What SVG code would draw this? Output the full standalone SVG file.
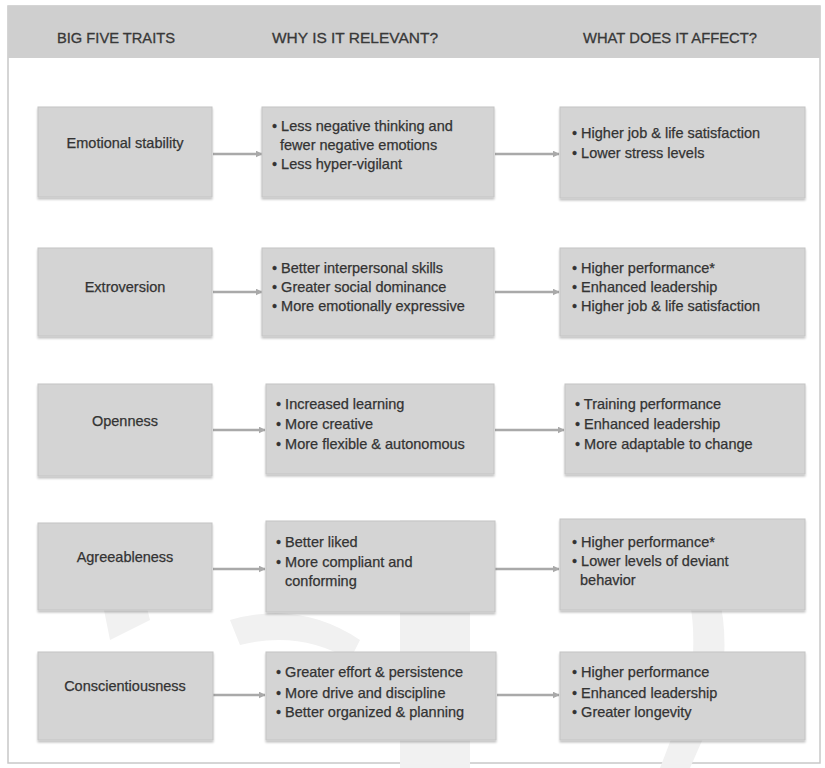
<svg xmlns="http://www.w3.org/2000/svg" width="825" height="768" viewBox="0 0 825 768">
  <defs>
    <marker id="arrowHead" viewBox="0 0 10 10" refX="9" refY="5" markerWidth="7" markerHeight="7" orient="auto" markerUnits="userSpaceOnUse">
      <path d="M0,0 L10,5 L0,10 z" fill="#a9a9a9"/>
    </marker>
    <filter id="soft" x="-5%" y="-5%" width="110%" height="115%">
      <feGaussianBlur in="SourceAlpha" stdDeviation="1.2"/>
      <feOffset dx="0" dy="1.5"/>
      <feComponentTransfer><feFuncA type="linear" slope="0.25"/></feComponentTransfer>
      <feMerge><feMergeNode/><feMergeNode in="SourceGraphic"/></feMerge>
    </filter>
  </defs>
  <style>
    .frame { fill: #ffffff; stroke: #c8c8c8; stroke-width: 1.5; }
    .header { fill: #cfcfcf; }
    .hdr { font-family: "Liberation Sans", Arial, sans-serif; font-size: 15px; fill: #383838; stroke: #383838; stroke-width: 0.3; }
    .box { fill: #d4d4d4; stroke: #c4c4c4; stroke-width: 1; filter: url(#soft); }
    .label { font-family: "Liberation Sans", Arial, sans-serif; font-size: 14.5px; fill: #333333; stroke: #333333; stroke-width: 0.25; text-anchor: middle; }
    .item { font-family: "Liberation Sans", Arial, sans-serif; font-size: 14.5px; fill: #333333; stroke: #333333; stroke-width: 0.25; }
    .conn { stroke: #a9a9a9; stroke-width: 2.5; fill: none; marker-end: url(#arrowHead); }
    .mark { fill: #f1f1f1; }
  </style>

  <!-- page frame -->
  <rect class="frame" x="8" y="6" width="812" height="757"/>

  <!-- faint background emblem -->
  <g id="emblem">
    <path class="mark" d="M400,520 L470,520 L470,768 L400,768 z"/>
    <path class="mark" d="M700,560 Q735,600 720,700 L690,768 L660,768 L690,690 Q700,610 680,575 z"/>
    <path class="mark" d="M90,540 L130,540 L150,620 L110,640 z"/>
    <path class="mark" d="M230,620 Q300,600 360,640 L350,660 Q300,630 240,645 z"/>
  </g>

  <!-- column header band -->
  <g id="header">
    <rect class="header" x="8" y="6" width="812" height="52"/>
    <text class="hdr" x="57" y="43" textLength="118" lengthAdjust="spacingAndGlyphs">BIG FIVE TRAITS</text>
    <text class="hdr" x="272" y="43" textLength="166" lengthAdjust="spacingAndGlyphs">WHY IS IT RELEVANT?</text>
    <text class="hdr" x="583" y="43" textLength="174" lengthAdjust="spacingAndGlyphs">WHAT DOES IT AFFECT?</text>
  </g>

  <!-- connectors -->
  <g id="connectors">
    <line class="conn" x1="213" y1="154" x2="262" y2="154"/>
    <line class="conn" x1="495" y1="154" x2="559" y2="154"/>
    <line class="conn" x1="213" y1="292" x2="262" y2="292"/>
    <line class="conn" x1="495" y1="292" x2="559" y2="292"/>
    <line class="conn" x1="213" y1="430" x2="265" y2="430"/>
    <line class="conn" x1="495" y1="430" x2="564" y2="430"/>
    <line class="conn" x1="213" y1="569" x2="265" y2="569"/>
    <line class="conn" x1="495" y1="569" x2="559" y2="569"/>
    <line class="conn" x1="213" y1="695" x2="265" y2="695"/>
    <line class="conn" x1="497" y1="695" x2="559" y2="695"/>
  </g>

  <!-- row 1: emotional stability -->
  <g id="trait-emotional-stability">
    <rect class="box" x="38" y="107" width="174" height="90"/>
    <text class="label" x="125" y="148">Emotional stability</text>
  </g>
  <g id="why-emotional-stability">
    <rect class="box" x="262" y="107" width="232" height="90"/>
    <text class="item" x="272" y="131">• Less negative thinking and</text>
    <text class="item" x="280" y="150">fewer negative emotions</text>
    <text class="item" x="272" y="169">• Less hyper-vigilant</text>
  </g>
  <g id="effect-emotional-stability">
    <rect class="box" x="560" y="107" width="245" height="91"/>
    <text class="item" x="572" y="138">• Higher job &amp; life satisfaction</text>
    <text class="item" x="572" y="158">• Lower stress levels</text>
  </g>

  <!-- row 2: extroversion -->
  <g id="trait-extroversion">
    <rect class="box" x="38" y="248" width="174" height="88"/>
    <text class="label" x="125" y="292">Extroversion</text>
  </g>
  <g id="why-extroversion">
    <rect class="box" x="262" y="248" width="232" height="88"/>
    <text class="item" x="272" y="273">• Better interpersonal skills</text>
    <text class="item" x="272" y="292">• Greater social dominance</text>
    <text class="item" x="272" y="311">• More emotionally expressive</text>
  </g>
  <g id="effect-extroversion">
    <rect class="box" x="560" y="248" width="245" height="88"/>
    <text class="item" x="572" y="273">• Higher performance*</text>
    <text class="item" x="572" y="292">• Enhanced leadership</text>
    <text class="item" x="572" y="311">• Higher job &amp; life satisfaction</text>
  </g>

  <!-- row 3: openness -->
  <g id="trait-openness">
    <rect class="box" x="38" y="384" width="174" height="92"/>
    <text class="label" x="125" y="426">Openness</text>
  </g>
  <g id="why-openness">
    <rect class="box" x="266" y="384" width="228" height="90"/>
    <text class="item" x="276" y="409">• Increased learning</text>
    <text class="item" x="276" y="429">• More creative</text>
    <text class="item" x="276" y="449">• More flexible &amp; autonomous</text>
  </g>
  <g id="effect-openness">
    <rect class="box" x="565" y="384" width="240" height="90"/>
    <text class="item" x="575" y="409">• Training performance</text>
    <text class="item" x="575" y="429">• Enhanced leadership</text>
    <text class="item" x="575" y="449">• More adaptable to change</text>
  </g>

  <!-- row 4: agreeableness -->
  <g id="trait-agreeableness">
    <rect class="box" x="38" y="523" width="174" height="87"/>
    <text class="label" x="125" y="562">Agreeableness</text>
  </g>
  <g id="why-agreeableness">
    <rect class="box" x="266" y="521" width="229" height="91"/>
    <text class="item" x="276" y="547">• Better liked</text>
    <text class="item" x="276" y="567">• More compliant and</text>
    <text class="item" x="285" y="586">conforming</text>
  </g>
  <g id="effect-agreeableness">
    <rect class="box" x="560" y="519" width="245" height="91"/>
    <text class="item" x="572" y="547">• Higher performance*</text>
    <text class="item" x="572" y="566">• Lower levels of deviant</text>
    <text class="item" x="580" y="585">behavior</text>
  </g>

  <!-- row 5: conscientiousness -->
  <g id="trait-conscientiousness">
    <rect class="box" x="38" y="652" width="175" height="88"/>
    <text class="label" x="125" y="691">Conscientiousness</text>
  </g>
  <g id="why-conscientiousness">
    <rect class="box" x="266" y="652" width="230" height="88"/>
    <text class="item" x="276" y="677">• Greater effort &amp; persistence</text>
    <text class="item" x="276" y="698">• More drive and discipline</text>
    <text class="item" x="276" y="717">• Better organized &amp; planning</text>
  </g>
  <g id="effect-conscientiousness">
    <rect class="box" x="560" y="652" width="245" height="88"/>
    <text class="item" x="572" y="677">• Higher performance</text>
    <text class="item" x="572" y="698">• Enhanced leadership</text>
    <text class="item" x="572" y="717">• Greater longevity</text>
  </g>
</svg>
